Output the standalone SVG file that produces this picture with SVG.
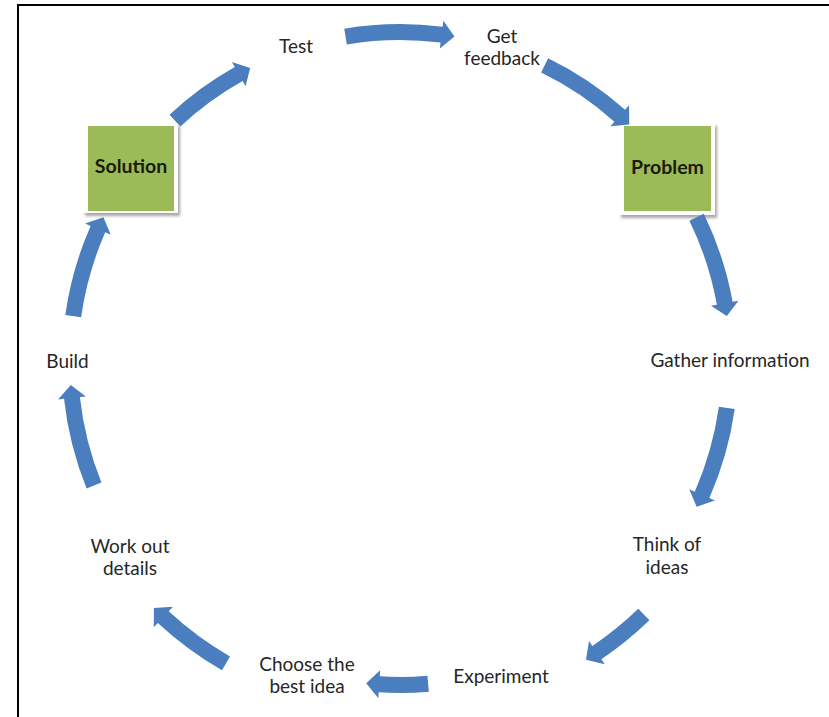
<svg xmlns="http://www.w3.org/2000/svg" width="829" height="717" viewBox="0 0 829 717">
  <style>
    .lbl { font-family: Lato, "Open Sans", "Liberation Sans", sans-serif; font-size: 19px; fill: #262626; text-anchor: middle; }
    .box-lbl { font-family: Lato, "Open Sans", "Liberation Sans", sans-serif; font-size: 19.5px; font-weight: bold; fill: #1a1a0a; text-anchor: middle; }
    .frame { fill: #ffffff; filter: url(#shadow); }
    .green { fill: #9BBB59; }
    .arrow { fill: #4A7EBF; }
    .border { stroke: #000; stroke-width: 2; fill: none; }
  </style>
  <defs>
    <filter id="shadow" x="-20%" y="-20%" width="140%" height="140%">
      <feDropShadow dx="2" dy="3" stdDeviation="1.5" flood-color="#000" flood-opacity="0.35"/>
    </filter>
    <path id="shA" d="M0,-338 A338,338 0 0 1 91.70,-325.33 L93.32,-331.10 L101.98,-313.85 L85.73,-304.15 L87.36,-309.93 A322,322 0 0 0 0,-322 Z"/>
    <path id="shB" d="M0,-338 A338,338 0 0 1 97.36,-323.68 L99.09,-329.42 L107.44,-312.02 L91.02,-302.61 L92.75,-308.35 A322,322 0 0 0 0,-322 Z"/>
    <path id="shC" d="M0,-338 A338,338 0 0 1 80.28,-328.33 L81.71,-334.15 L90.96,-317.22 L75.06,-306.96 L76.48,-312.78 A322,322 0 0 0 0,-322 Z"/>
    <path id="shD" d="M0,-359 A359,359 0 0 1 61.60,-353.68 L62.63,-359.59 L72.98,-343.33 L57.83,-332.00 L58.86,-337.91 A343,343 0 0 0 0,-343 Z"/>
    <path id="shE" d="M0,-331 A331,331 0 0 1 50.01,-327.20 L50.92,-333.13 L61.63,-317.07 L46.69,-305.45 L47.59,-311.38 A315,315 0 0 0 0,-315 Z"/>
    <path id="shF" d="M0,-356 A356,356 0 0 1 79.23,-347.07 L80.56,-352.92 L90.07,-336.14 L74.33,-325.62 L75.67,-331.47 A340,340 0 0 0 0,-340 Z"/>
  </defs>

  <rect x="0" y="0" width="829" height="717" fill="#ffffff"/>
  <path class="border" d="M18,717 L18,5 L829,5"/>

  <g id="node-test"><text class="lbl" x="296" y="53">Test</text></g>
  <g id="node-feedback"><text class="lbl" x="502" y="43">Get</text><text class="lbl" x="502" y="65">feedback</text></g>
  <g id="node-problem">
    <rect class="frame" x="619" y="123" width="96" height="92"/>
    <rect class="green" x="624" y="126" width="87" height="85"/>
    <text class="box-lbl" x="667.5" y="174">Problem</text>
  </g>
  <g id="node-gather"><text class="lbl" x="730" y="367">Gather information</text></g>
  <g id="node-think"><text class="lbl" x="667" y="551">Think of</text><text class="lbl" x="667" y="574">ideas</text></g>
  <g id="node-experiment"><text class="lbl" x="501" y="683">Experiment</text></g>
  <g id="node-choose"><text class="lbl" x="307" y="671">Choose the</text><text class="lbl" x="307" y="693">best idea</text></g>
  <g id="node-workout"><text class="lbl" x="130" y="553">Work out</text><text class="lbl" x="130" y="575">details</text></g>
  <g id="node-build"><text class="lbl" x="67.5" y="368">Build</text></g>
  <g id="node-solution">
    <rect class="frame" x="83" y="123" width="95" height="90"/>
    <rect class="green" x="88" y="126" width="86" height="85"/>
    <text class="box-lbl" x="131" y="173">Solution</text>
  </g>

  <g id="connectors" class="arrow">
    <use href="#shB" transform="translate(400,362) rotate(-9.5)"/>
    <use href="#shA" transform="translate(400,362) rotate(26)"/>
    <use href="#shA" transform="translate(400,362) rotate(64)"/>
    <use href="#shA" transform="translate(400,362) rotate(98)"/>
    <use href="#shD" transform="translate(400,362) rotate(136)"/>
    <use href="#shE" transform="translate(400,362) rotate(175)"/>
    <use href="#shF" transform="translate(400,362) rotate(210)"/>
    <use href="#shA" transform="translate(400,362) rotate(248)"/>
    <use href="#shA" transform="translate(400,362) rotate(278)"/>
    <use href="#shC" transform="translate(400,362) rotate(317)"/>
  </g>
</svg>
